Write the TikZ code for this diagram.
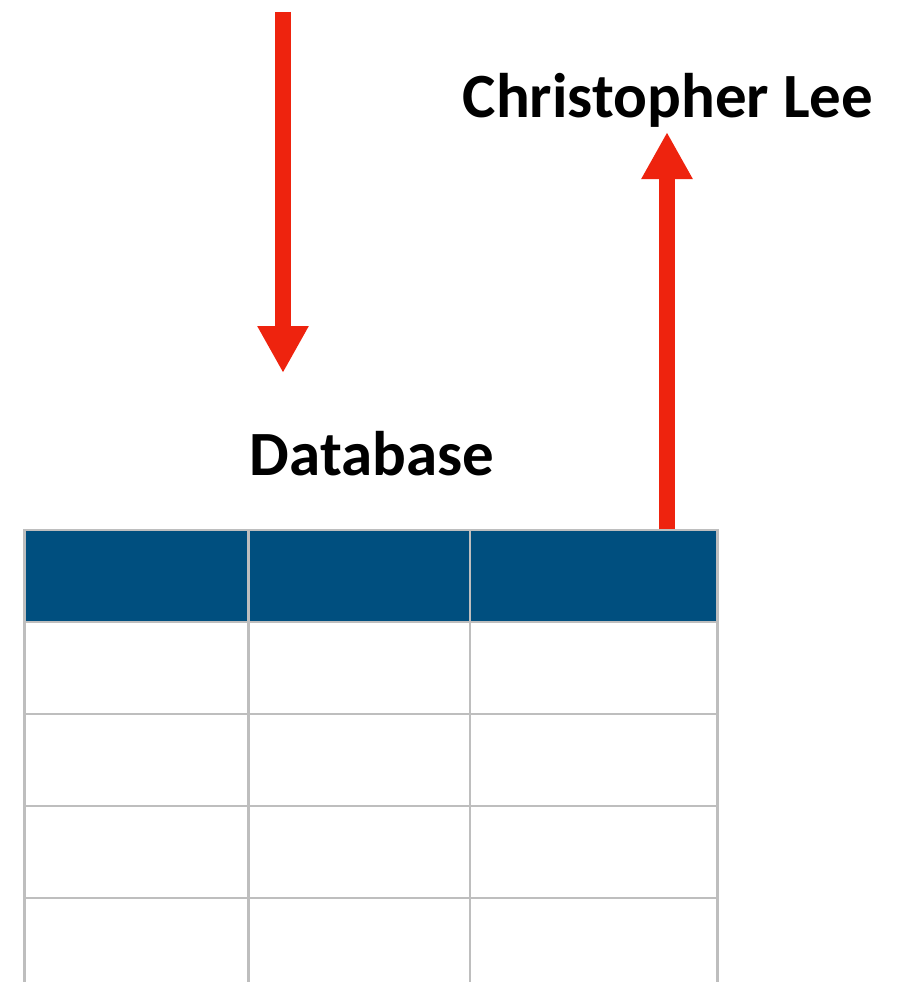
\documentclass[tikz,border=0pt]{standalone}
\usepackage{fontspec}
\setmainfont{Carlito}
\usetikzlibrary{arrows.meta}
\definecolor{hdr}{RGB}{0,79,127}
\definecolor{arr}{RGB}{238,35,14}
\definecolor{grid}{RGB}{190,190,190}
\begin{document}
\begin{tikzpicture}[x=1pt,y=-1pt,
  bigarrow/.style={draw=arr,line width=16pt,-{Triangle[width=48pt,length=47pt]}},
  gridline/.style={draw=grid,line width=2.5pt},
  label/.style={font=\bfseries\fontsize{63}{68}\selectfont,anchor=base,inner sep=0pt}]
\useasboundingbox (0,0) rectangle (906,982);
% header fill
\fill[hdr] (24.5,530) rectangle (717.5,622);
% grid
\foreach \y in {530,622,714,806,898} \draw[gridline] (23.5,\y) -- (718.5,\y);
\foreach \x in {24.5,248.5,470,717.5} \draw[gridline] (\x,529) -- (\x,982);
% labels
\node[label] (db) at (372,475) {Database};
\node[label] (cl) at (668,117) {Christopher Lee};
% arrows
\coordinate (a1s) at (283,12);
\coordinate (a1e) at (283,373);
\coordinate (a2s) at (667,529);
\coordinate (a2e) at (667,132);
\draw[bigarrow] (a1s) -- (a1e);
\draw[bigarrow] (a2s) -- (a2e);
\end{tikzpicture}
\end{document}
